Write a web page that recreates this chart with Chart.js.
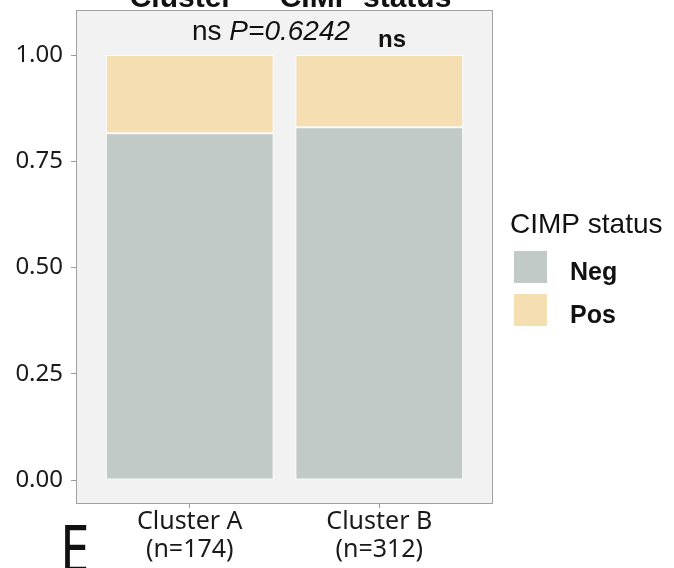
<!DOCTYPE html>
<html>
<head>
<meta charset="utf-8">
<script src="https://cdn.jsdelivr.net/npm/chart.js@4/dist/chart.umd.min.js"></script>
<style>
  html, body { margin: 0; padding: 0; background: #fff; }
  #wrap { width: 674px; height: 568px; }
</style>
</head>
<body>
<div id="wrap"><canvas id="chart"></canvas></div>
<script>
const categories = ['Cluster A', 'Cluster B'];
const sampleSizes = ['(n=174)', '(n=312)'];
const negShare = [0.816, 0.830];
const posShare = [0.184, 0.170];
const yTicks = [0, 0.25, 0.5, 0.75, 1];
const statusLabels = ['Neg', 'Pos'];
const legendTitle = 'CIMP status';
const plotTitle = 'Cluster \u2014 CIMP status';
const testText = 'ns';
const pText = 'P=0.6242';
const panelLetter = 'E';

const negColor = '#c2cac7';
const posColor = '#f5deb2';

// grey panel, box, title, p-value, legend and panel letter
const decorations = {
    id: 'decorations',
    beforeDraw(chart) {
        const { ctx, chartArea: a } = chart;
        ctx.save();
        ctx.fillStyle = '#f2f2f2';
        ctx.fillRect(a.left, a.top, a.right - a.left, a.bottom - a.top);
        ctx.restore();
    },
    afterDraw(chart) {
        const { ctx, chartArea: a } = chart;
        ctx.save();
        ctx.strokeStyle = '#a0a0a0';
        ctx.lineWidth = 1;
        ctx.strokeRect(a.left + 0.5, a.top + 0.5, a.right - a.left - 1, a.bottom - a.top);

        ctx.fillStyle = '#111';
        ctx.textBaseline = 'alphabetic';

        // title, cut off at the top of the picture
        ctx.font = 'bold 30px "Liberation Sans"';
        ctx.textAlign = 'center';
        ctx.fillText(plotTitle, (a.left + a.right) / 2 + 6, a.top - 3);

        // p-value
        ctx.textAlign = 'left';
        ctx.font = '28px "Liberation Sans"';
        const px = a.left + 116;
        ctx.fillText(testText + ' ', px, a.top + 30);
        const w = ctx.measureText(testText + ' ').width;
        ctx.font = 'italic 28px "Liberation Sans"';
        ctx.fillText(pText, px + w, a.top + 30);

        ctx.font = 'bold 24px "Liberation Sans"';
        ctx.fillText(testText, a.left + 302, a.top + 37);

        // legend
        const lx = a.right + 17;
        ctx.font = '28px "Liberation Sans"';
        ctx.fillText(legendTitle, lx, 233);
        const keyColors = [negColor, posColor];
        statusLabels.forEach((lab, i) => {
            const ky = 251 + i * 43;
            ctx.fillStyle = keyColors[i];
            ctx.fillRect(lx + 4, ky, 33, 32);
            ctx.fillStyle = '#111';
            ctx.font = 'bold 25px "Liberation Sans"';
            ctx.fillText(lab, lx + 60, ky + 29);
        });

        // panel letter
        ctx.font = '66px "Noto Sans"';
        ctx.translate(60, 572);
        ctx.scale(0.8, 1);
        ctx.fillText(panelLetter, 0, 0);
        ctx.restore();
    }
};

const ctx = document.getElementById('chart').getContext('2d');

new Chart(ctx, {
    type: 'bar',
    data: {
        datasets: [
            {
                label: statusLabels[0],
                data: negShare.map((v, i) => ({ x: i, y: v })),
                backgroundColor: negColor,
                borderColor: '#ffffff',
                borderWidth: 1,
                borderSkipped: false
            },
            {
                label: statusLabels[1],
                data: posShare.map((v, i) => ({ x: i, y: v })),
                backgroundColor: posColor,
                borderColor: '#ffffff',
                borderWidth: 1,
                borderSkipped: false
            }
        ]
    },
    options: {
        responsive: true,
        maintainAspectRatio: false,
        animation: false,
        categoryPercentage: 1,
        barPercentage: 0.885,
        layout: {
            padding: { top: 10, right: 181, left: 0, bottom: 0 }
        },
        plugins: {
            legend: { display: false },
            tooltip: { enabled: false }
        },
        scales: {
            x: {
                type: 'linear',
                stacked: true,
                offset: false,
                min: -0.6,
                max: 1.6,
                afterBuildTicks: s => { s.ticks = categories.map((c, i) => ({ value: i })); },
                afterFit: s => { s.height = 65; s.paddingLeft = 0; s.paddingRight = 0; },
                ticks: {
                    callback: v => [categories[v], sampleSizes[v]],
                    font: { family: 'Noto Sans', size: 25, lineHeight: 1.12 },
                    color: '#1a1a1a',
                    padding: 0,
                    maxRotation: 0,
                    autoSkip: false
                },
                grid: {
                    offset: false,
                    drawOnChartArea: false,
                    tickLength: 5,
                    color: '#9a9a9a'
                },
                border: { display: false }
            },
            y: {
                stacked: true,
                min: -0.054,
                max: 1.106,
                afterBuildTicks: s => { s.ticks = yTicks.map(v => ({ value: v })); },
                afterFit: s => { s.width = 76; s.paddingTop = 0; s.paddingBottom = 0; },
                ticks: {
                    callback: v => v.toFixed(2),
                    font: { family: 'Noto Sans', size: 24, lineHeight: 1 },
                    color: '#1a1a1a',
                    padding: 8
                },
                grid: {
                    drawOnChartArea: false,
                    tickLength: 5,
                    color: '#9a9a9a'
                },
                border: { display: false }
            }
        }
    },
    plugins: [decorations]
});
</script>
</body>
</html>
